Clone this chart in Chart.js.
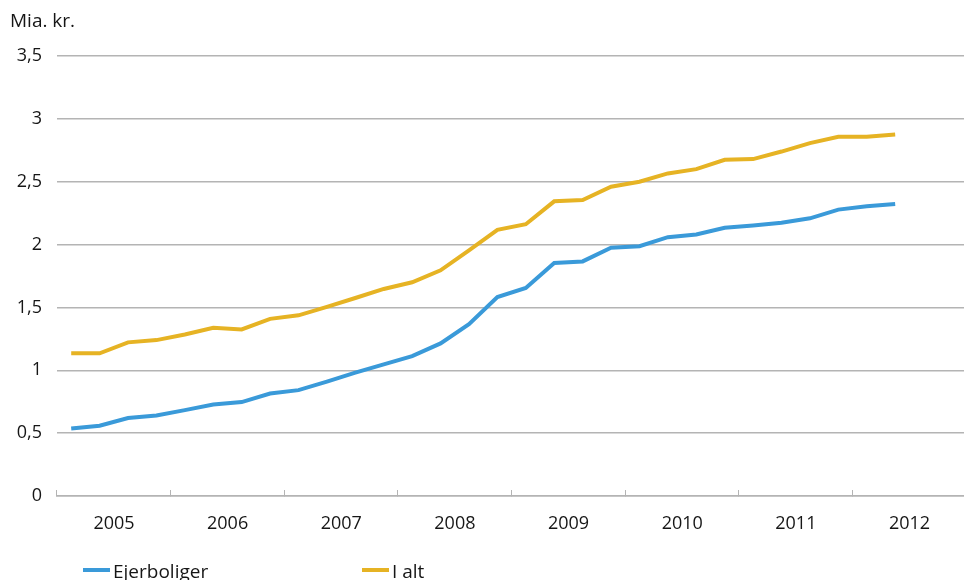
<!DOCTYPE html>
<html lang="da">
<head>
<meta charset="utf-8">
<title>Ejerboliger og i alt, mia. kr.</title>
<script src="https://cdn.jsdelivr.net/npm/chart.js@4/dist/chart.umd.min.js"></script>
<style>
  html, body { margin: 0; padding: 0; background: #ffffff; overflow: hidden; }
  #wrap { width: 975px; height: 580px; }
</style>
</head>
<body>
<div id="wrap"><canvas id="chart" width="975" height="580"></canvas></div>
<script>
// Quarterly series, 2005 K1 – 2012 K2 (billion DKK)
const years = ['2005', '2006', '2007', '2008', '2009', '2010', '2011', '2012'];
const quarters = years.flatMap(y => ['K1', 'K2', 'K3', 'K4'].map(q => y + ' ' + q));

const ejerboliger = [
  0.537, 0.559, 0.620, 0.640, 0.683, 0.727, 0.747, 0.815,
  0.842, 0.910, 0.981, 1.047, 1.113, 1.214, 1.367, 1.583,
  1.655, 1.853, 1.866, 1.975, 1.987, 2.059, 2.080, 2.134,
  2.151, 2.173, 2.209, 2.278, 2.304, 2.323
];
const iAlt = [
  1.135, 1.135, 1.222, 1.240, 1.285, 1.338, 1.325, 1.409,
  1.437, 1.504, 1.575, 1.647, 1.700, 1.795, 1.953, 2.117,
  2.162, 2.344, 2.355, 2.460, 2.500, 2.566, 2.600, 2.674,
  2.680, 2.740, 2.807, 2.857, 2.857, 2.875
];
const yTicks = [0, 0.5, 1, 1.5, 2, 2.5, 3, 3.5];

const FONT = '"Open Sans", "Noto Sans", sans-serif';
const TEXT = '#161616';
const GRID = '#b4b4b4';

// Unit label top-left and line legend along the bottom
const annotations = {
  id: 'annotations',
  afterDraw(chart) {
    const ctx = chart.ctx;
    ctx.save();
    ctx.fillStyle = TEXT;
    ctx.font = '19px ' + FONT;
    ctx.textBaseline = 'alphabetic';
    ctx.textAlign = 'left';
    ctx.fillText('Mia. kr.', 10, 27);

    const starts = [83, 362];
    chart.data.datasets.forEach((ds, i) => {
      const x = starts[i];
      ctx.strokeStyle = ds.borderColor;
      ctx.lineWidth = 4;
      ctx.lineCap = 'butt';
      ctx.beginPath();
      ctx.moveTo(x, 570);
      ctx.lineTo(x + 27, 570);
      ctx.stroke();
      ctx.fillStyle = TEXT;
      ctx.fillText(ds.label, x + 30, 578);
    });
    ctx.restore();
  }
};

new Chart(document.getElementById('chart'), {
  type: 'line',
  data: {
    labels: quarters,
    datasets: [
      {
        label: 'Ejerboliger',
        data: ejerboliger,
        borderColor: '#3a9ad9',
        borderWidth: 4,
        pointRadius: 0,
        tension: 0,
        fill: false
      },
      {
        label: 'I alt',
        data: iAlt,
        borderColor: '#e6b324',
        borderWidth: 4,
        pointRadius: 0,
        tension: 0,
        fill: false
      }
    ]
  },
  options: {
    responsive: false,
    animation: false,
    layout: { padding: { top: 56, left: 0, right: 0, bottom: 0 } },
    plugins: {
      legend: { display: false },
      tooltip: { enabled: false }
    },
    scales: {
      x: {
        type: 'category',
        offset: true,
        grid: {
          offset: true,
          drawOnChartArea: false,
          drawTicks: true,
          tickLength: -6,
          tickWidth: 1,
          tickColor: c => (c.index % 4 === 0 ? GRID : 'rgba(0,0,0,0)')
        },
        border: { display: true, color: GRID, width: 1.5 },
        ticks: {
          autoSkip: false,
          maxRotation: 0,
          minRotation: 0,
          padding: 23,
          labelOffset: 14.34,
          color: TEXT,
          font: { family: FONT, size: 18 },
          callback: (v, i) => (i % 4 === 1 ? years[Math.floor(i / 4)] : '')
        },
        afterFit: s => { s.height = 84; }
      },
      y: {
        min: 0,
        max: 3.5,
        afterBuildTicks: s => { s.ticks = yTicks.map(v => ({ value: v })); },
        grid: { color: GRID, lineWidth: 1.5, drawTicks: false },
        border: { display: false },
        ticks: {
          padding: 15,
          color: TEXT,
          font: { family: FONT, size: 18 },
          callback: v => String(v).replace('.', ',')
        },
        afterFit: s => { s.width = 57; }
      }
    }
  },
  plugins: [annotations]
});
</script>
</body>
</html>
